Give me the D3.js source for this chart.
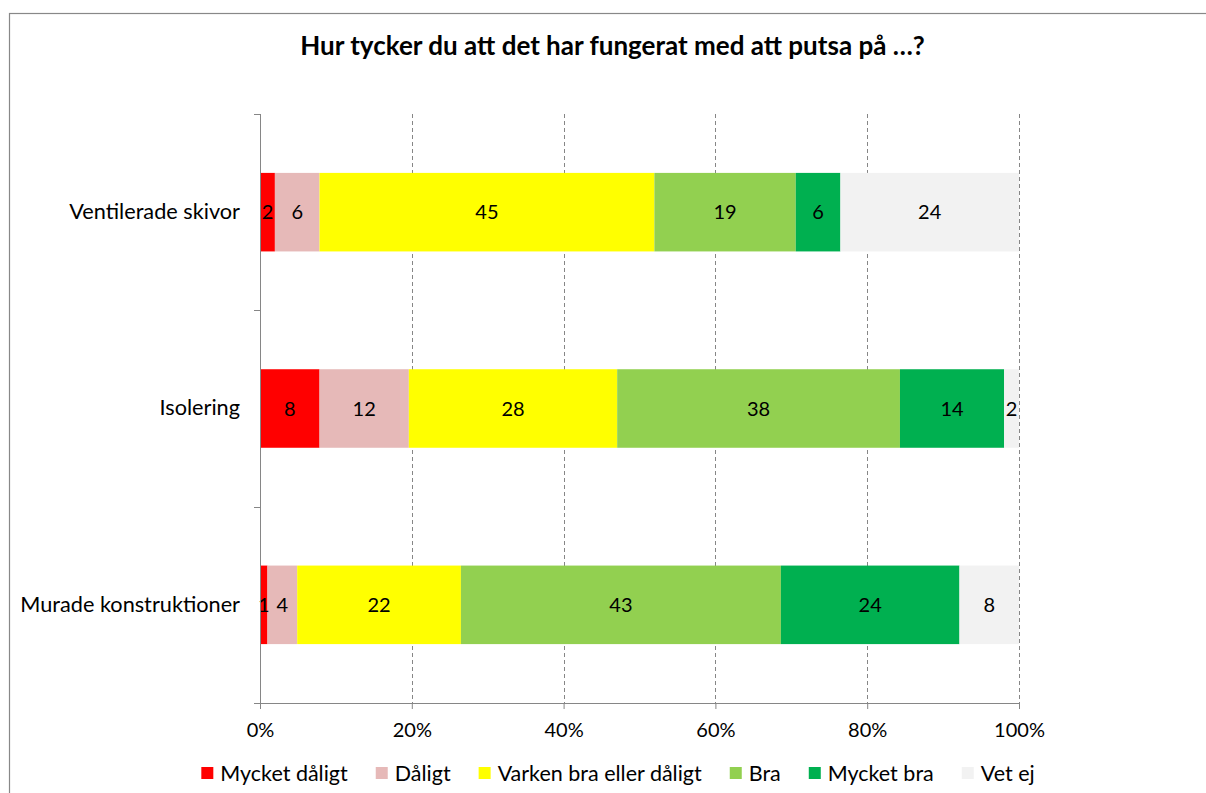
<!DOCTYPE html>
<html><head><meta charset="utf-8">
<script src="https://cdn.jsdelivr.net/npm/d3@7"></script>
<style>
html,body{margin:0;padding:0;background:#fff;}
svg{display:block;font-family:Lato, "Open Sans", sans-serif;}
</style></head>
<body>
<svg id="chart" width="1206" height="793"></svg>
<script>
const title = "Hur tycker du att det har fungerat med att putsa på …?";
const categories = ["Ventilerade skivor", "Isolering", "Murade konstruktioner"];
const seriesNames = ["Mycket dåligt", "Dåligt", "Varken bra eller dåligt", "Bra", "Mycket bra", "Vet ej"];
const seriesColors = ["#FF0000", "#E6B9B8", "#FFFF00", "#92D050", "#00B050", "#F2F2F2"];
const mycketDaligt = [2, 8, 1];
const daligt = [6, 12, 4];
const varken = [45, 28, 22];
const bra = [19, 38, 43];
const mycketBra = [6, 14, 24];
const vetEj = [24, 2, 8];
const xTicks = [0, 0.2, 0.4, 0.6, 0.8, 1.0];

const seriesValues = [mycketDaligt, daligt, varken, bra, mycketBra, vetEj];
const rows = categories.map((c, i) => {
  const r = {category: c};
  seriesNames.forEach((s, j) => r[s] = seriesValues[j][i]);
  return r;
});
const stacked = d3.stack().keys(seriesNames).offset(d3.stackOffsetExpand)(rows);

const svg = d3.select("#chart");
const W = 1206, H = 793;
const m = {left: 260, right: 187, top: 114, bottom: 90};
const x = d3.scaleLinear().domain([0, 1]).range([m.left, W - m.right]);
const y = d3.scaleBand().domain(categories).range([m.top, H - m.bottom]).paddingInner(0.6).paddingOuter(0.3);
const axisColor = "#868686";

// outer border
svg.append("rect").attr("x", 9.5).attr("y", 13.5).attr("width", 1400).attr("height", 1000)
  .attr("fill", "none").attr("stroke", "#888888").attr("stroke-width", 1.2);

// title
svg.append("text").attr("x", 612.5).attr("y", 55).attr("text-anchor", "middle")
  .attr("font-size", 26).attr("font-weight", "bold").attr("fill", "#000").text(title);

// grid lines
svg.append("g").selectAll("line").data(xTicks.slice(1)).join("line")
  .attr("x1", d => Math.round(x(d)) + 0.5).attr("x2", d => Math.round(x(d)) + 0.5)
  .attr("y1", m.top).attr("y2", H - m.bottom)
  .attr("stroke", axisColor).attr("stroke-dasharray", "4,3").attr("stroke-width", 1);

// bars
const gBars = svg.append("g");
stacked.forEach((layer, j) => {
  gBars.append("g").attr("fill", seriesColors[j]).selectAll("rect").data(layer).join("rect")
    .attr("x", d => x(d[0])).attr("width", d => x(d[1]) - x(d[0]))
    .attr("y", d => y(d.data.category)).attr("height", y.bandwidth());
});

// labels
const gLab = svg.append("g").attr("font-size", 20).attr("fill", "#000").attr("text-anchor", "middle");
stacked.forEach((layer, j) => {
  gLab.selectAll(null).data(layer).join("text")
    .attr("x", d => (x(d[0]) + x(d[1])) / 2)
    .attr("y", d => y(d.data.category) + y.bandwidth() / 2)
    .attr("dy", "0.36em")
    .text(d => d.data[layer.key]);
});

// x axis
const xAxis = d3.axisBottom(x).tickValues(xTicks).tickFormat(d3.format(".0%")).tickSize(6).tickPadding(14);
const gx = svg.append("g").attr("transform", `translate(0,${H - m.bottom})`).call(xAxis);
gx.select(".domain").attr("stroke", axisColor).attr("d", `M${m.left},0.5H${W - m.right}`);
gx.selectAll(".tick line").attr("stroke", axisColor);
gx.selectAll(".tick text").attr("font-size", 20).attr("fill", "#000").attr("font-family", "Lato, sans-serif");

// y axis
const yAxis = d3.axisLeft(y).tickSize(0).tickPadding(20);
const gy = svg.append("g").attr("transform", `translate(${m.left},0)`).call(yAxis);
gy.select(".domain").attr("stroke", axisColor).attr("d", `M0.5,${m.top}V${H - m.bottom}`);
gy.selectAll(".tick text").attr("font-size", 21.7).attr("fill", "#000").attr("font-family", "Lato, sans-serif");
// boundary ticks between categories
const bounds = [m.top, ...categories.map(c => y(c) + y.bandwidth() + y.step() * 0.3)];
svg.append("g").selectAll("line").data(bounds).join("line")
  .attr("x1", m.left - 6).attr("x2", m.left).attr("y1", d => Math.round(d) + 0.5).attr("y2", d => Math.round(d) + 0.5)
  .attr("stroke", axisColor);

// legend
const leg = svg.append("g").attr("font-size", 21.5).attr("fill", "#000");
const items = [];
seriesNames.forEach((s, j) => {
  const g = leg.append("g");
  g.append("rect").attr("x", 0).attr("y", -14).attr("width", 12).attr("height", 12).attr("fill", seriesColors[j]);
  const t = g.append("text").attr("x", 19).attr("y", 0).text(s);
  const w = t.node().getComputedTextLength();
  items.push({g, w});
});
const gap = 28;
const total = d3.sum(items, d => 19 + d.w) + gap * (items.length - 1);
let lx = 618 - total / 2;
items.forEach(it => { it.g.attr("transform", `translate(${lx},781)`); lx += 19 + it.w + gap; });
</script>
</body></html>
